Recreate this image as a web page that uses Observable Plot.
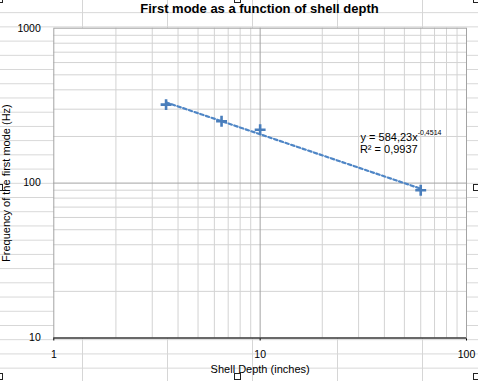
<!DOCTYPE html>
<html>
<head>
<meta charset="utf-8">
<script src="https://cdn.jsdelivr.net/npm/d3@7"></script>
<script src="https://cdn.jsdelivr.net/npm/@observablehq/plot@0.6"></script>
<style>
  html, body { margin: 0; padding: 0; overflow: hidden; background: #fff; }
  #wrap {
    position: relative; width: 478px; height: 381px; overflow: hidden;
    background-color: #fff;
    background-image:
      linear-gradient(to right, #d6d6d6 1px, transparent 1px),
      linear-gradient(to bottom, #d6d6d6 1px, transparent 1px);
    background-size: 85px 100%, 100% 14.22px;
    background-position: 82px 0, 0 12.2px;
    font-family: "Liberation Sans", Arial, Helvetica, sans-serif;
  }
  #title {
    position: absolute; top: 0; left: 53px; width: 413px; text-align: center;
    font-weight: bold; font-size: 13px; line-height: 17px; color: #000; z-index: 2;
  }
  #chart { position: absolute; left: 0; top: 0; z-index: 1; }
  .handle {
    position: absolute; width: 5px; height: 5px; background: #fff;
    border: 1px solid #222; z-index: 3;
  }
</style>
</head>
<body>
<div id="wrap">
  <div id="chart"></div>
  <div id="title">First mode as a function of shell depth</div>
</div>
<script>
// Data
const depth = [3.5, 6.5, 10, 60];          // Shell depth (inches)
const freq = [321, 251, 221, 90];           // Frequency of the first mode (Hz)
// Trendline y = 584,23 x^-0,4514 evaluated at the end points of the data range
const trendDepth = [3.5, 60];
const trendFreq = [332, 92];
// Tick values
const xTicks = [1, 10, 100];
const yTicks = [10, 100, 1000];
const xMinor = [2, 3, 4, 5, 6, 7, 8, 9, 20, 30, 40, 50, 60, 70, 80, 90];
const yMinor = [20, 30, 40, 50, 60, 70, 80, 90, 200, 300, 400, 500, 600, 700, 800, 900];
const xMajor = [10];
const yMajor = [100];
// Labels
const titleText = "First mode as a function of shell depth";
const xLabel = "Shell Depth (inches)";
const yLabel = "Frequency of the first mode (Hz)";
const eqMain = "y = 584,23x";
const eqExp = "-0,4514";
const eqR2 = "R² = 0,9937";
const eqPos = {x: 58, y: 198};
const r2Pos = {x: 58, y: 165};

const points = depth.map((d, i) => ({depth: d, freq: freq[i]}));
const trend = trendDepth.map((d, i) => ({depth: d, freq: trendFreq[i]}));
const blue = "#4a7ebb";

const chart = Plot.plot({
  width: 478,
  height: 381,
  marginLeft: 53.3,
  marginRight: 12,
  marginTop: 27.7,
  marginBottom: 43.5,
  style: {
    background: "transparent",
    fontFamily: "'Liberation Sans', Arial, Helvetica, sans-serif",
    fontSize: "10.5px",
    color: "#000"
  },
  x: {type: "log", domain: [1, 100], ticks: xTicks, tickFormat: d => String(d),
      tickSize: 3, tickPadding: 9.5, label: null},
  y: {type: "log", domain: [10, 1000], ticks: yTicks, tickFormat: d => String(d),
      tickSize: 0, tickPadding: 13, label: null},
  marks: [
    Plot.frame({fill: "white", stroke: "none"}),
    Plot.ruleX(xMinor, {stroke: "#d3d3d3", strokeWidth: 1}),
    Plot.ruleY(yMinor, {stroke: "#d3d3d3", strokeWidth: 1}),
    Plot.ruleX(xMajor, {stroke: "#a3a3a3", strokeWidth: 1}),
    Plot.ruleY(yMajor, {stroke: "#a3a3a3", strokeWidth: 1}),
    Plot.frame({stroke: "#a3a3a3", fill: "none"}),
    Plot.ruleY([10], {stroke: "#000", strokeWidth: 1}),
    Plot.line(trend, {x: "depth", y: "freq", stroke: "#4f86c6", strokeWidth: 2.2,
                      strokeDasharray: "3.5,2.5"}),
    Plot.dot(points, {x: "depth", y: "freq", symbol: "plus", r: 3.6, stroke: blue,
                      strokeWidth: 2.6}),
    Plot.text([eqMain], {x: () => eqPos.x, y: () => eqPos.y, text: d => d,
                         textAnchor: "end", fontSize: 11, fill: "#000"}),
    Plot.text([eqExp], {x: () => eqPos.x, y: () => eqPos.y, text: d => d,
                        textAnchor: "start", fontSize: 7, dy: -4, fill: "#000"}),
    Plot.text([eqR2], {x: () => r2Pos.x, y: () => r2Pos.y, text: d => d,
                       textAnchor: "end", fontSize: 11, fill: "#000"}),
    Plot.text([xLabel], {frameAnchor: "bottom", dy: 35, text: d => d,
                         fontSize: 11, fill: "#000"}),
    Plot.text([yLabel], {frameAnchor: "left", textAnchor: "middle", dx: -47.3, rotate: -90,
                         text: d => d, fontSize: 11, fill: "#000"})
  ]
});
document.getElementById("chart").appendChild(chart);
document.getElementById("title").textContent = titleText;

// Selection handles of the chart object
const hx = [-1, 237.5, 476], hy = [-1, 187.5, 376];
const wrap = document.getElementById("wrap");
for (const cy of hy) for (const cx of hx) {
  if (cx === 237.5 && cy === 187.5) continue;
  const h = document.createElement("div");
  h.className = "handle";
  h.style.left = (cx - 3.5) + "px";
  h.style.top = (cy - 3.5) + "px";
  wrap.appendChild(h);
}
</script>
</body>
</html>
